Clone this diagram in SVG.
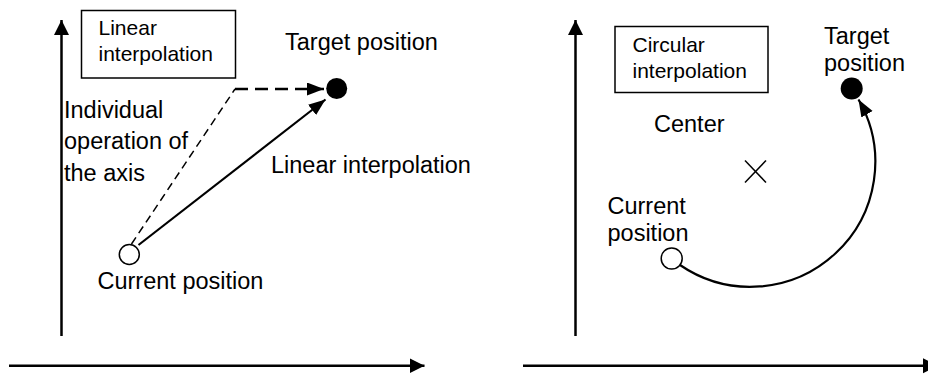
<svg xmlns="http://www.w3.org/2000/svg" width="928" height="374" viewBox="0 0 928 374">
  <style>
    text { font-family: "Liberation Sans", Arial, sans-serif; fill: #000; }
    .lbl { font-size: 23.5px; }
    .box-t { font-size: 21px; }
    .box { fill: #fff; stroke: #000; stroke-width: 1.5; }
    .axis { fill: none; stroke: #000; stroke-width: 2.5; }
    .solid { fill: none; stroke: #000; stroke-width: 2.2; }
    .dash-thin { fill: none; stroke: #000; stroke-width: 1.5; stroke-dasharray: 8 5; }
    .dash-thick { fill: none; stroke: #000; stroke-width: 2.5; stroke-dasharray: 13 7; }
    .open { fill: #fff; stroke: #000; stroke-width: 1.5; }
    .filled { fill: #000; }
    .cross { stroke: #000; stroke-width: 1.5; fill: none; }
  </style>
  <defs>
    <marker id="axHead" markerUnits="userSpaceOnUse" markerWidth="16" markerHeight="16" refX="15" refY="7.5" orient="auto">
      <path d="M0,0 L15,7.5 L0,15 Z" fill="#000"/>
    </marker>
    <marker id="head" markerUnits="userSpaceOnUse" markerWidth="18" markerHeight="14" refX="17" refY="6.5" orient="auto">
      <path d="M0,0 L17,6.5 L0,13 Z" fill="#000"/>
    </marker>
  </defs>

  <g id="connectors">
    <!-- left panel axes -->
    <line class="axis" x1="61.5" y1="336" x2="61.5" y2="20" marker-end="url(#axHead)"/>
    <line class="axis" x1="9" y1="365.8" x2="424.5" y2="365.8" marker-end="url(#axHead)"/>
    <!-- right panel axes -->
    <line class="axis" x1="575.5" y1="336" x2="575.5" y2="20" marker-end="url(#axHead)"/>
    <line class="axis" x1="523" y1="365.8" x2="938" y2="365.8" marker-end="url(#axHead)"/>
    <!-- individual axis operation (dashed) -->
    <polyline class="dash-thin" points="131.5,244 235,89"/>
    <line class="dash-thick" x1="235" y1="89" x2="324" y2="89" marker-end="url(#head)"/>
    <!-- linear interpolation -->
    <line class="solid" x1="138.5" y1="245" x2="325.5" y2="99.5" marker-end="url(#head)"/>
    <!-- circular interpolation arc -->
    <path class="solid" d="M 680 265 A 124.8 124.8 0 0 0 858.5 99.5" marker-end="url(#head)"/>
  </g>

  <g id="linear-box">
    <rect class="box" x="81.5" y="10.5" width="154" height="67.5"/>
    <text class="box-t" x="98.5" y="35">Linear</text>
    <text class="box-t" x="98.5" y="61">interpolation</text>
  </g>

  <g id="left-target">
    <circle class="filled" cx="336.7" cy="88.5" r="10.5"/>
    <text class="lbl" x="285" y="50">Target position</text>
  </g>

  <g id="left-current">
    <circle class="open" cx="129.3" cy="254.5" r="10"/>
    <text class="lbl" x="97.5" y="288.5">Current position</text>
  </g>

  <g id="individual-label">
    <text class="lbl" x="64" y="117.5">Individual</text>
    <text class="lbl" x="64" y="149">operation of</text>
    <text class="lbl" x="64" y="180.5">the axis</text>
  </g>

  <g id="linear-label">
    <text class="lbl" x="271" y="172.5">Linear interpolation</text>
  </g>

  <g id="circular-box">
    <rect class="box" x="615" y="26.5" width="153" height="66"/>
    <text class="box-t" x="632.5" y="51.5">Circular</text>
    <text class="box-t" x="632.5" y="78">interpolation</text>
  </g>

  <g id="right-target">
    <circle class="filled" cx="851.7" cy="88.5" r="11"/>
    <text class="lbl" x="824" y="43.5">Target</text>
    <text class="lbl" x="824" y="70.5">position</text>
  </g>

  <g id="center">
    <text class="lbl" x="654" y="131.5">Center</text>
    <line class="cross" x1="745" y1="160.5" x2="766" y2="182.5"/>
    <line class="cross" x1="766" y1="160.5" x2="745" y2="182.5"/>
  </g>

  <g id="right-current">
    <circle class="open" cx="671.7" cy="258.5" r="10.5"/>
    <text class="lbl" x="607.5" y="214">Current</text>
    <text class="lbl" x="607.5" y="240.5">position</text>
  </g>
</svg>
